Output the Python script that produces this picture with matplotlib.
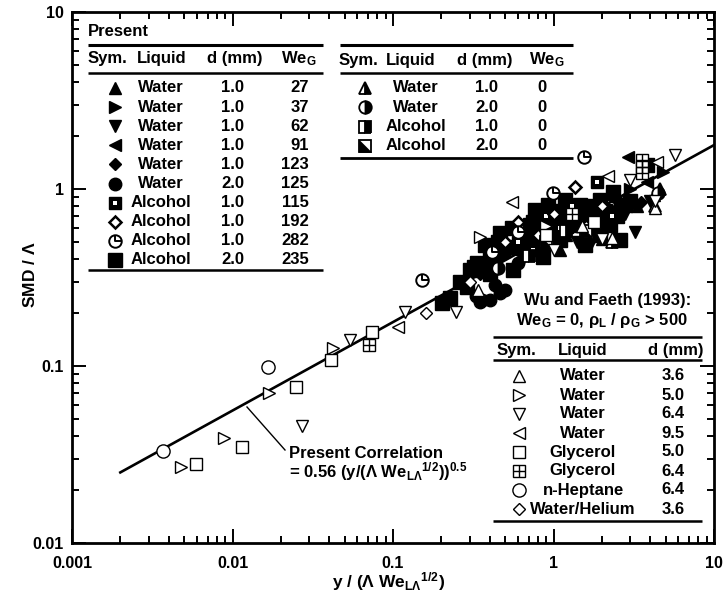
import numpy as np
import matplotlib
matplotlib.use("Agg")
import matplotlib.pyplot as plt
from matplotlib.path import Path
from matplotlib.ticker import NullFormatter

plt.rcParams['font.family'] = ['Liberation Sans', 'DejaVu Sans']
plt.rcParams['font.weight'] = 'bold'
plt.rcParams['mathtext.fontset'] = 'custom'
plt.rcParams['mathtext.rm'] = 'Liberation Sans'
plt.rcParams['mathtext.bf'] = 'Liberation Sans:bold'
plt.rcParams['mathtext.it'] = 'Liberation Sans:italic'
plt.rcParams['mathtext.default'] = 'regular'

# ---------------- data ----------------
# Present study, We_G > 0
w27_x = [0.60, 0.75, 0.95, 1.1, 1.2, 1.5, 1.9, 2.0, 2.4, 3.3, 4.2]
w27_y = [0.48, 0.52, 0.60, 0.45, 0.55, 0.62, 0.70, 0.52, 0.78, 0.80, 0.92]
w37_x = [0.50, 0.80, 1.0, 1.3, 1.8, 2.6, 3.0, 4.8]
w37_y = [0.42, 0.55, 0.65, 0.72, 0.58, 0.80, 1.00, 1.25]
w62_x = [0.65, 0.90, 1.4, 1.7, 2.0, 2.8, 3.2, 4.0]
w62_y = [0.40, 0.45, 0.50, 0.48, 0.62, 0.72, 0.57, 0.85]
w91_x = [0.55, 0.75, 1.2, 1.6, 2.2, 2.9, 3.8]
w91_y = [0.45, 0.60, 0.78, 0.66, 0.90, 1.52, 1.10]
w123_x = [0.35, 0.45, 0.70, 0.91, 1.1, 1.3, 1.9, 2.5, 3.5]
w123_y = [0.33, 0.42, 0.55, 0.71, 0.50, 0.68, 0.75, 0.88, 0.84]
w125_x = [0.33, 0.348, 0.36, 0.402, 0.432, 0.464, 0.499, 0.60, 0.80]
w125_y = [0.25, 0.230, 0.235, 0.236, 0.287, 0.258, 0.269, 0.38, 0.45]
a115_x = [0.60, 0.75, 0.90, 1.1, 1.3, 1.87, 2.3]
a115_y = [0.50, 0.45, 0.70, 0.60, 0.80, 1.10, 0.70]
a192_x = [0.50, 0.60, 0.80, 1.0, 1.36, 1.6, 2.0]
a192_y = [0.50, 0.65, 0.55, 0.72, 1.03, 0.62, 0.80]
a282_x = [0.152, 0.414, 0.601, 0.99, 1.55]
a282_y = [0.306, 0.441, 0.571, 0.95, 1.52]
a235_x = [0.202, 0.226, 0.26, 0.289, 0.302, 0.318, 0.333, 0.374, 0.40, 0.40,
          0.45, 0.464, 0.484, 0.535, 0.55, 0.560, 0.618, 0.65, 0.684, 0.714,
          0.75, 0.767, 0.824, 0.85, 0.861, 0.925, 0.95, 1.02, 1.05, 1.10,
          1.18, 1.2, 1.27, 1.36, 1.4, 1.46, 1.57, 1.6, 1.69, 1.8, 1.95, 1.95,
          2.1, 2.25, 2.35, 2.5, 2.60, 2.79, 3.0, 3.83]
a235_y = [0.227, 0.242, 0.30, 0.279, 0.348, 0.362, 0.382, 0.483, 0.40, 0.33,
          0.50, 0.564, 0.452, 0.470, 0.60, 0.348, 0.550, 0.52, 0.452, 0.627,
          0.65, 0.761, 0.536, 0.70, 0.413, 0.810, 0.58, 0.627, 0.75, 0.515,
          0.867, 0.62, 0.713, 0.627, 0.70, 0.810, 0.480, 0.80, 0.713, 0.60,
          0.867, 0.550, 0.75, 0.627, 0.962, 0.70, 0.515, 0.810, 0.85, 1.37]
# Present study, We_G = 0
z_w1_x = [2.3, 4.3, 4.6]
z_w1_y = [0.50, 0.80, 1.00]
z_w2_x = [0.45, 4.5]
z_w2_y = [0.36, 0.95]
z_a1_x = [0.70, 1.2]
z_a1_y = [0.42, 0.58]
z_a2_x = [0.90, 1.6]
z_a2_y = [0.50, 0.58]
# Wu and Faeth (1993)
wf36_x = [0.339, 1.5, 2.31, 4.3]
wf36_y = [0.269, 0.62, 0.528, 0.78]
wf50_x = [0.0048, 0.0089, 0.017, 0.042, 0.348, 0.90]
wf50_y = [0.027, 0.039, 0.070, 0.126, 0.536, 0.62]
wf64_x = [0.027, 0.054, 0.119, 0.247, 1.0, 2.0, 3.0, 4.3, 5.71]
wf64_y = [0.046, 0.140, 0.202, 0.202, 0.45, 0.52, 1.12, 0.86, 1.56]
wf95_x = [0.107, 0.551, 2.19, 4.42]
wf95_y = [0.166, 0.845, 1.18, 1.42]
gl50_x = [0.0059, 0.0115, 0.025, 0.041, 0.074, 0.90, 1.8]
gl50_y = [0.028, 0.035, 0.076, 0.108, 0.156, 0.55, 0.65]
gl64_x = [0.071, 1.3, 3.56, 3.56, 3.56]
gl64_y = [0.131, 0.72, 1.46, 1.33, 1.23]
hep_x = [0.0037, 0.0166]
hep_y = [0.033, 0.099]
he36_x = [0.16, 0.30]
he36_y = [0.20, 0.30]

# correlation
corr_coef = 0.56
corr_exp = 0.5
corr_x = np.array([0.002, 10.0])

# legend tables
present_keys = ['w27', 'w37', 'w62', 'w91', 'w123', 'w125', 'a115', 'a192', 'a282', 'a235']
present_liquid = ['Water'] * 6 + ['Alcohol'] * 4
present_d = ['1.0', '1.0', '1.0', '1.0', '1.0', '2.0', '1.0', '1.0', '1.0', '2.0']
present_we = ['27', '37', '62', '91', '123', '125', '115', '192', '282', '235']
zero_keys = ['z_w1', 'z_w2', 'z_a1', 'z_a2']
zero_liquid = ['Water', 'Water', 'Alcohol', 'Alcohol']
zero_d = ['1.0', '2.0', '1.0', '2.0']
zero_we = ['0', '0', '0', '0']
wf_keys = ['wf36', 'wf50', 'wf64', 'wf95', 'gl50', 'gl64', 'hep', 'he36']
wf_liquid = ['Water', 'Water', 'Water', 'Water', 'Glycerol', 'Glycerol', 'n-Heptane', 'Water/Helium']
wf_d = ['3.6', '5.0', '6.4', '9.5', '5.0', '6.4', '6.4', '3.6']

x_ticks = [0.001, 0.01, 0.1, 1, 10]
x_tick_labels = ['0.001', '0.01', '0.1', '1', '10']
y_ticks = [0.01, 0.1, 1, 10]
y_tick_labels = ['0.01', '0.1', '1', '10']

# ---------------- styling helpers ----------------
QUAD = Path([(0, 1), (0, 0), (1, 0)], [Path.MOVETO, Path.LINETO, Path.LINETO])
TRI_LL = Path([(-1, -1), (1, -1), (-1, 1), (-1, -1)],
              [Path.MOVETO, Path.LINETO, Path.LINETO, Path.CLOSEPOLY])


def draw(axis, x, y, key, z=3, clip=False):
    k = dict(linestyle='none', color='black', zorder=z, clip_on=clip)
    if key == 'w27':
        axis.plot(x, y, marker='^', ms=8.5, **k)
    elif key == 'w37':
        axis.plot(x, y, marker='>', ms=8.5, **k)
    elif key == 'w62':
        axis.plot(x, y, marker='v', ms=8.5, **k)
    elif key == 'w91':
        axis.plot(x, y, marker='<', ms=8.5, **k)
    elif key == 'w123':
        axis.plot(x, y, marker='D', ms=6.2, **k)
    elif key == 'w125':
        axis.plot(x, y, marker='o', ms=9, **k)
    elif key == 'a115':
        axis.plot(x, y, marker='s', ms=8.5, **k)
        axis.plot(x, y, marker='s', ms=3, mfc='white', mec='white', mew=0,
                  linestyle='none', zorder=z, clip_on=clip)
    elif key == 'a192':
        axis.plot(x, y, marker='D', ms=5.8, mfc='white', mew=1.8, **k)
    elif key == 'a282':
        axis.plot(x, y, marker='o', ms=9, mfc='white', mew=1.4, **k)
        axis.plot(x, y, marker=QUAD, ms=9, mfc='none', mew=1.4, **k)
    elif key == 'a235':
        axis.plot(x, y, marker='s', ms=9.5, **k)
    elif key == 'z_w1':
        axis.plot(x, y, marker='^', ms=9, fillstyle='right', mfc='black',
                  markerfacecoloralt='white', mew=1.3, **k)
    elif key == 'z_w2':
        axis.plot(x, y, marker='o', ms=9, fillstyle='right', mfc='black',
                  markerfacecoloralt='white', mew=1.3, **k)
    elif key == 'z_a1':
        axis.plot(x, y, marker='s', ms=8.5, fillstyle='right', mfc='black',
                  markerfacecoloralt='white', mew=1.3, **k)
    elif key == 'z_a2':
        axis.plot(x, y, marker='s', ms=8.5, mfc='white', mew=1.3, **k)
        axis.plot(x, y, marker=TRI_LL, ms=8.5, mew=0.5, **k)
    elif key == 'wf36':
        axis.plot(x, y, marker='^', ms=9, mfc='white', mew=1.0, **k)
    elif key == 'wf50':
        axis.plot(x, y, marker='>', ms=9, mfc='white', mew=1.0, **k)
    elif key == 'wf64':
        axis.plot(x, y, marker='v', ms=9, mfc='white', mew=1.0, **k)
    elif key == 'wf95':
        axis.plot(x, y, marker='<', ms=9, mfc='white', mew=1.0, **k)
    elif key == 'gl50':
        axis.plot(x, y, marker='s', ms=9, mfc='white', mew=1.0, **k)
    elif key == 'gl64':
        axis.plot(x, y, marker='s', ms=9, mfc='white', mew=1.0, **k)
        axis.plot(x, y, marker='+', ms=9, mew=1.0, **k)
    elif key == 'hep':
        axis.plot(x, y, marker='o', ms=9.5, mfc='white', mew=1.0, **k)
    elif key == 'he36':
        axis.plot(x, y, marker='D', ms=6.5, mfc='white', mew=1.0, **k)


# ---------------- figure ----------------
fig = plt.figure(figsize=(7.23, 6.03), dpi=100)
ax = fig.add_axes([72 / 723, 60 / 603, 642 / 723, 531 / 603])
ax.set_xscale('log')
ax.set_yscale('log')
ax.set_xlim(0.001, 10)
ax.set_ylim(0.01, 10)

ax.plot(corr_x, corr_coef * corr_x ** corr_exp, color='black', lw=1.9, zorder=2.5)

series = {
    'w27': (w27_x, w27_y), 'w37': (w37_x, w37_y), 'w62': (w62_x, w62_y),
    'w91': (w91_x, w91_y), 'w123': (w123_x, w123_y), 'w125': (w125_x, w125_y),
    'a115': (a115_x, a115_y), 'a192': (a192_x, a192_y), 'a235': (a235_x, a235_y),
    'a282': (a282_x, a282_y),
    'z_w1': (z_w1_x, z_w1_y), 'z_w2': (z_w2_x, z_w2_y), 'z_a1': (z_a1_x, z_a1_y),
    'z_a2': (z_a2_x, z_a2_y),
    'wf36': (wf36_x, wf36_y), 'wf50': (wf50_x, wf50_y), 'wf64': (wf64_x, wf64_y),
    'wf95': (wf95_x, wf95_y), 'gl50': (gl50_x, gl50_y), 'gl64': (gl64_x, gl64_y),
    'hep': (hep_x, hep_y), 'he36': (he36_x, he36_y),
}
order = ['a235', 'w125', 'w27', 'w37', 'w62', 'w91', 'w123', 'a115', 'a192',
         'z_w1', 'z_w2', 'z_a1', 'z_a2',
         'wf36', 'wf50', 'wf64', 'wf95', 'gl50', 'gl64', 'hep', 'he36', 'a282']
for i, key in enumerate(order):
    xs, ys = series[key]
    draw(ax, xs, ys, key, z=3 + i * 0.01, clip=True)

ax.set_xticks(x_ticks)
ax.set_xticklabels(x_tick_labels)
ax.set_yticks(y_ticks)
ax.set_yticklabels(y_tick_labels)
ax.xaxis.set_minor_formatter(NullFormatter())
ax.yaxis.set_minor_formatter(NullFormatter())
ax.tick_params(which='both', direction='in', top=True, right=True, width=1.4)
ax.tick_params(which='major', length=10, labelsize=11.5)
ax.tick_params(which='minor', length=5)
ax.tick_params(axis='x', pad=9)
ax.tick_params(axis='y', pad=6)
for s in ax.spines.values():
    s.set_linewidth(2.0)

# ---------------- overlay in pixel coordinates ----------------
ov = fig.add_axes([0, 0, 1, 1], zorder=5)
ov.set_xlim(0, 723)
ov.set_ylim(603, 0)
ov.axis('off')

FS = 12


def hline(x0, x1, y, lw=1.6):
    ov.plot([x0, x1], [y, y], color='black', lw=lw, solid_capstyle='butt')


# axis labels
ov.text(30, 275, r'SMD / $\mathrm{\Lambda}$', rotation=90, ha='center', va='center', fontsize=12.5)
ov.text(389, 582, r'y / ($\mathrm{\Lambda}$ We$_{L\mathrm{\Lambda}}{}^{1/2}$)',
        ha='center', va='center', fontsize=12.5)

# table 1 (Present)
ov.text(88, 32, 'Present', ha='left', va='center', fontsize=FS)
hline(88, 323, 45, lw=2.2)
ov.text(88, 59, 'Sym.', ha='left', va='center', fontsize=FS)
ov.text(137, 59, 'Liquid', ha='left', va='center', fontsize=FS)
ov.text(207, 59, 'd (mm)', ha='left', va='center', fontsize=FS)
ov.text(281, 59, r'We$_{G}$', ha='left', va='center', fontsize=FS)
hline(88, 323, 73, lw=1.8)
for i in range(len(present_keys)):
    yy = 88 + 19.1 * i
    draw(ov, [115], [yy], present_keys[i], z=6)
    ov.text(161, yy, present_liquid[i], ha='center', va='center', fontsize=FS)
    ov.text(233, yy, present_d[i], ha='center', va='center', fontsize=FS)
    ov.text(309, yy, present_we[i], ha='right', va='center', fontsize=FS)
hline(88, 323, 270, lw=1.8)

# table 2 (Present, We_G = 0)
hline(340, 573, 45, lw=2.2)
ov.text(339, 60, 'Sym.', ha='left', va='center', fontsize=FS)
ov.text(386, 60, 'Liquid', ha='left', va='center', fontsize=FS)
ov.text(457, 60, 'd (mm)', ha='left', va='center', fontsize=FS)
ov.text(529, 60, r'We$_{G}$', ha='left', va='center', fontsize=FS)
hline(340, 573, 73, lw=1.8)
for i in range(len(zero_keys)):
    yy = 88 + 19.3 * i
    draw(ov, [365], [yy], zero_keys[i], z=6)
    ov.text(416, yy, zero_liquid[i], ha='center', va='center', fontsize=FS)
    ov.text(487, yy, zero_d[i], ha='center', va='center', fontsize=FS)
    ov.text(542, yy, zero_we[i], ha='center', va='center', fontsize=FS)
hline(340, 573, 158, lw=2.0)

# table 3 (Wu and Faeth)
ov.text(608, 301, 'Wu and Faeth (1993):', ha='center', va='center', fontsize=FS)
ov.text(602, 321, r'We$_{G}$ = 0, $\mathrm{\rho}_{L}$ / $\mathrm{\rho}_{G}$ > 500',
        ha='center', va='center', fontsize=FS)
hline(493, 702, 337, lw=1.8)
ov.text(497, 350, 'Sym.', ha='left', va='center', fontsize=FS)
ov.text(583, 350, 'Liquid', ha='center', va='center', fontsize=FS)
ov.text(703, 350, 'd (mm)', ha='right', va='center', fontsize=FS)
hline(493, 702, 360, lw=1.8)
for i in range(len(wf_keys)):
    yy = 376 + 19 * i
    draw(ov, [519], [yy], wf_keys[i], z=6)
    ov.text(583, yy, wf_liquid[i], ha='center', va='center', fontsize=FS)
    ov.text(685, yy, wf_d[i], ha='right', va='center', fontsize=FS)
hline(493, 702, 521, lw=1.8)

# correlation annotation
ov.plot([247, 285], [407, 450], color='black', lw=1.0)
ov.text(289, 453, 'Present Correlation', ha='left', va='center', fontsize=FS)
ov.text(289, 472, r'= 0.56 (y/($\mathrm{\Lambda}$ We$_{L\mathrm{\Lambda}}{}^{1/2}$))$^{0.5}$',
        ha='left', va='center', fontsize=FS)

fig.savefig('out.png', dpi=100)
